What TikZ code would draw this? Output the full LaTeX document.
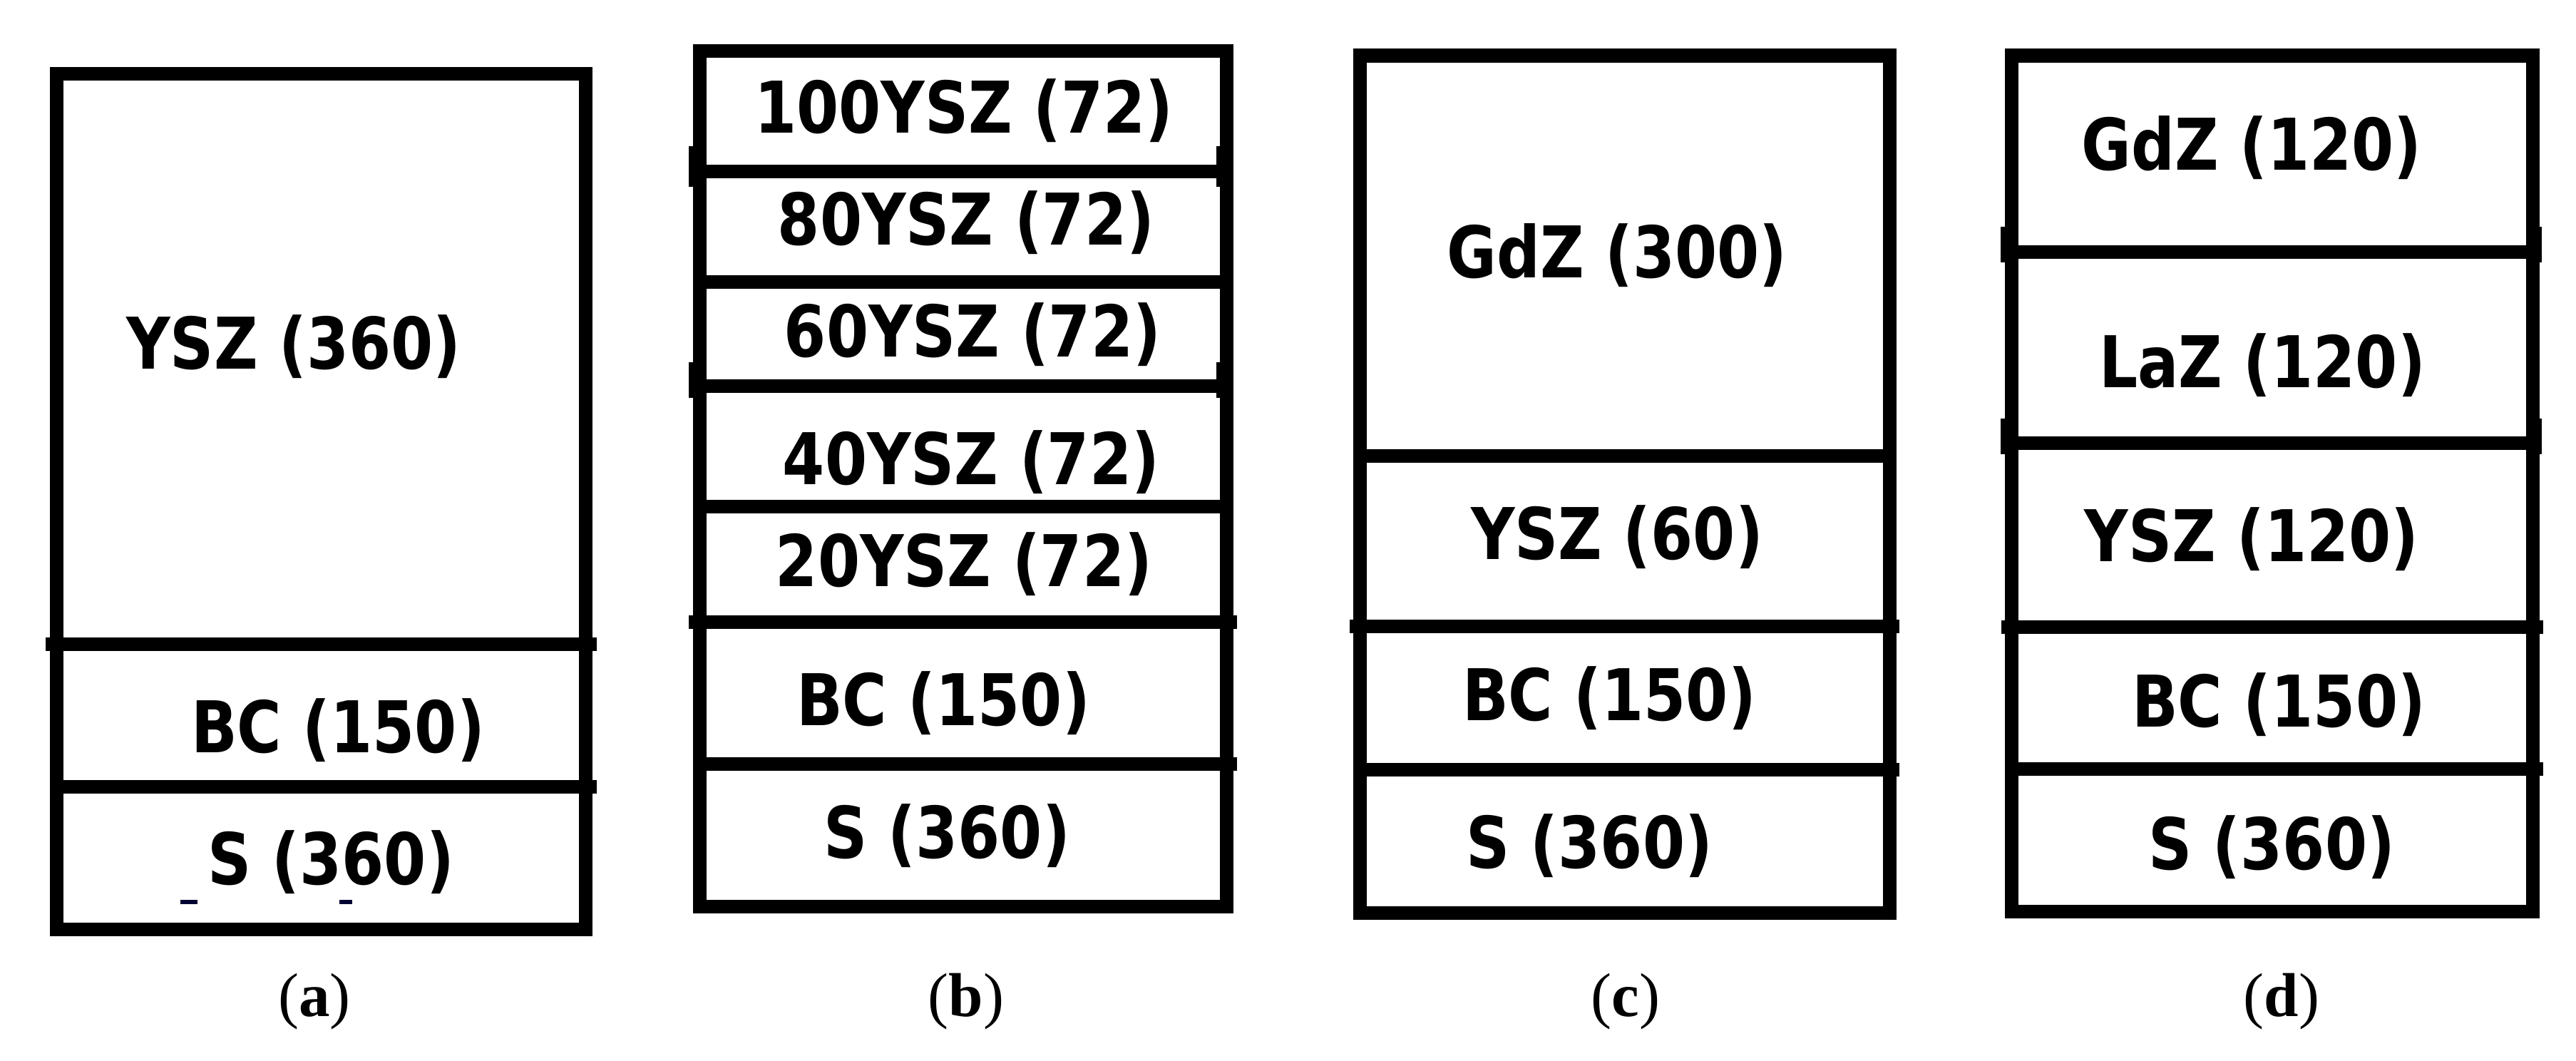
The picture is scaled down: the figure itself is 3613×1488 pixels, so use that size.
\documentclass[tikz,border=0pt]{standalone}
\usepackage{fontspec}
\newfontfamily\layfont{DejaVu Sans}
\newfontfamily\capfont{Liberation Serif}
\newcommand\sqz[1]{\scalebox{0.85}[1]{#1}}
\tikzset{
  stack/.style={line width=19pt, draw=black},
  lay/.style={inner sep=0pt, anchor=base, font=\layfont\bfseries\fontsize{100}{110}\selectfont},
  sublabel/.style={inner sep=0pt, anchor=base, font=\capfont\fontsize{87}{95}\selectfont},
  blk/.style={fill=black},
  speck/.style={fill=black!80!blue},
}
\begin{document}
\begin{tikzpicture}[x=1pt,y=-1pt]
\useasboundingbox[fill=white] (0,0) rectangle (3613,1488);

% ---------- (a) ----------
\draw[stack] (79.5,103) rectangle (821,1303);
\draw[stack] (64,903) -- (837,903);
\draw[stack] (70,1103) -- (837,1103);
\node[lay] (a1) at (412,517) {\sqz{YSZ (360)}};
\node[lay] (a2) at (474,1055.6) {\sqz{BC (150)}};
\node[lay] (a3) at (464,1240) {\sqz{S (360)}};
\fill[speck] (253,1262) rectangle (277,1268);
\fill[speck] (476,1262) rectangle (494,1268);
\node[sublabel] (la) at (441,1425) {(\textbf{a})};

% ---------- (b) ----------
\draw[stack] (981,71.5) rectangle (1720,1271.5);
\draw[stack] (966,240) -- (1729.5,240);
\draw[stack] (971.5,395) -- (1729.5,395);
\draw[stack] (966,541) -- (1729.5,541);
\draw[stack] (971.5,710) -- (1729.5,710);
\draw[stack] (966,872) -- (1735,872);
\draw[stack] (971.5,1071.5) -- (1735,1071.5);
\fill[blk] (966,205) rectangle (984,262);
\fill[blk] (966,508) rectangle (984,558);
\fill[blk] (1706,205) rectangle (1724,262);
\fill[blk] (1706,508) rectangle (1724,558);
\node[lay] (b1) at (1352,186) {\sqz{100YSZ (72)}};
\node[lay] (b2) at (1355,343) {\sqz{80YSZ (72)}};
\node[lay] (b3) at (1364,500) {\sqz{60YSZ (72)}};
\node[lay] (b4) at (1362,679) {\sqz{40YSZ (72)}};
\node[lay] (b5) at (1352,822) {\sqz{20YSZ (72)}};
\node[lay] (b6) at (1323,1017.5) {\sqz{BC (150)}};
\node[lay] (b7) at (1328,1203) {\sqz{S (360)}};
\node[sublabel] (lb) at (1355,1425) {(\textbf{b})};

% ---------- (c) ----------
\draw[stack] (1907.5,78) rectangle (2650,1280);
\draw[stack] (1898,639) -- (2659.5,639);
\draw[stack] (1893,878) -- (2664,878);
\draw[stack] (1898,1079) -- (2664,1079);
\node[lay] (c1) at (2268,389) {\sqz{GdZ (300)}};
\node[lay] (c2) at (2268,784) {\sqz{YSZ (60)}};
\node[lay] (c3) at (2257,1010) {\sqz{BC (150)}};
\node[lay] (c4) at (2229,1217) {\sqz{S (360)}};
\node[sublabel] (lc) at (2280,1425) {(\textbf{c})};

% ---------- (d) ----------
\draw[stack] (2821.5,78) rectangle (3552,1278);
\draw[stack] (2806,353) -- (3561,353);
\draw[stack] (2806,621.7) -- (3561,621.7);
\draw[stack] (2807,879) -- (3567,879);
\draw[stack] (2812,1078) -- (3567,1078);
\fill[blk] (2805.7,318) rectangle (2824,368);
\fill[blk] (2805.7,586.7) rectangle (2824,636.7);
\fill[blk] (3545,318) rectangle (3565,368);
\fill[blk] (3545,586.7) rectangle (3565,636.7);
\node[lay] (d1) at (3158,238) {\sqz{GdZ (120)}};
\node[lay] (d2) at (3173,543) {\sqz{LaZ (120)}};
\node[lay] (d3) at (3158,787) {\sqz{YSZ (120)}};
\node[lay] (d4) at (3196,1019) {\sqz{BC (150)}};
\node[lay] (d5) at (3186,1219) {\sqz{S (360)}};
\node[sublabel] (ld) at (3200,1425) {(\textbf{d})};
\end{tikzpicture}
\end{document}
